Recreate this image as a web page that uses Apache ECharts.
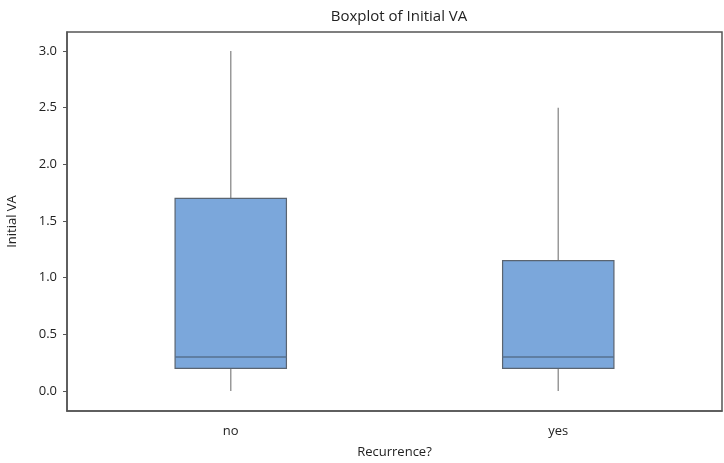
<!DOCTYPE html>
<html>
<head>
<meta charset="utf-8">
<script src="https://cdn.jsdelivr.net/npm/echarts@6/dist/echarts.min.js"></script>
<style>
  html, body { margin: 0; padding: 0; background: #fff; }
  #chart { width: 724px; height: 463px; }
</style>
</head>
<body>
<div id="chart"></div>
<script>
var categories = ['no', 'yes']
// [min, q1, median, q3, max]
var boxStats = [
  [0, 0.2, 0.3, 1.7, 3.0],
  [0, 0.2, 0.3, 1.15, 2.5],
]
var yTicks = [0, 0.5, 1, 1.5, 2, 2.5, 3]

var chartDom = document.getElementById('chart')
var myChart = echarts.init(chartDom)
var font = '"Open Sans", "Noto Sans", sans-serif'

var option = {
  backgroundColor: '#fff',
  animation: false,
  title: {
    text: 'Boxplot of Initial VA',
    left: 394,
    textAlign: 'center',
    top: 4,
    textStyle: { fontFamily: font, fontSize: 15, fontWeight: 'normal', color: '#222' },
  },
  grid: {
    left: 67, right: 2, top: 32, bottom: 52,
    outerBoundsMode: 'none',
    containLabel: false,
    show: true, borderColor: '#555', borderWidth: 1.5, backgroundColor: '#fff',
  },
  xAxis: {
    type: 'category',
    data: categories,
    name: 'Recurrence?',
    nameLocation: 'middle',
    nameGap: 35,
    nameTextStyle: { fontFamily: font, fontSize: 13, color: '#222' },
    axisLine: { onZero: false, lineStyle: { color: '#555', width: 1.5 } },
    axisTick: { alignWithLabel: true, length: 4, lineStyle: { color: '#888' } },
    axisLabel: { fontFamily: font, fontSize: 13, color: '#222', margin: 14 },
  },
  yAxis: {
    type: 'value',
    min: -0.177,
    max: 3.168,
    name: 'Initial VA',
    nameLocation: 'middle',
    nameGap: 48,
    nameTextStyle: { fontFamily: font, fontSize: 13, color: '#222' },
    axisLine: { show: true, lineStyle: { color: '#555', width: 1.5 } },
    axisTick: { show: true, length: 4, customValues: yTicks, lineStyle: { color: '#555' } },
    axisLabel: {
      fontFamily: font, fontSize: 13, color: '#222', margin: 10,
      customValues: yTicks,
      formatter: function (v) { return v.toFixed(1) },
    },
    splitLine: { show: false },
  },
  series: [{
    type: 'custom',
    data: boxStats.map(function (s, i) { return [i].concat(s) }),
    encode: { x: 0, y: [1, 2, 3, 4, 5] },
    renderItem: function (params, api) {
      var i = api.value(0)
      var pMin = api.coord([i, api.value(1)])
      var pQ1 = api.coord([i, api.value(2)])
      var pMed = api.coord([i, api.value(3)])
      var pQ3 = api.coord([i, api.value(4)])
      var pMax = api.coord([i, api.value(5)])
      var w = api.size([1, 0])[0] * 0.34
      var x = pQ1[0]
      return {
        type: 'group',
        children: [
          { type: 'line', shape: { x1: x, y1: pMax[1], x2: x, y2: pQ3[1] }, style: { stroke: '#999', lineWidth: 1.5 } },
          { type: 'line', shape: { x1: x, y1: pQ1[1], x2: x, y2: pMin[1] }, style: { stroke: '#999', lineWidth: 1.5 } },
          { type: 'rect', shape: { x: x - w / 2, y: pQ3[1], width: w, height: pQ1[1] - pQ3[1] }, style: { fill: '#7ba7db', stroke: '#5a6470', lineWidth: 1.2 } },
          { type: 'line', shape: { x1: x - w / 2, y1: pMed[1], x2: x + w / 2, y2: pMed[1] }, style: { stroke: '#56708f', lineWidth: 1.5 } },
        ],
      }
    },
  }],
}

option && myChart.setOption(option)
</script>
</body>
</html>
